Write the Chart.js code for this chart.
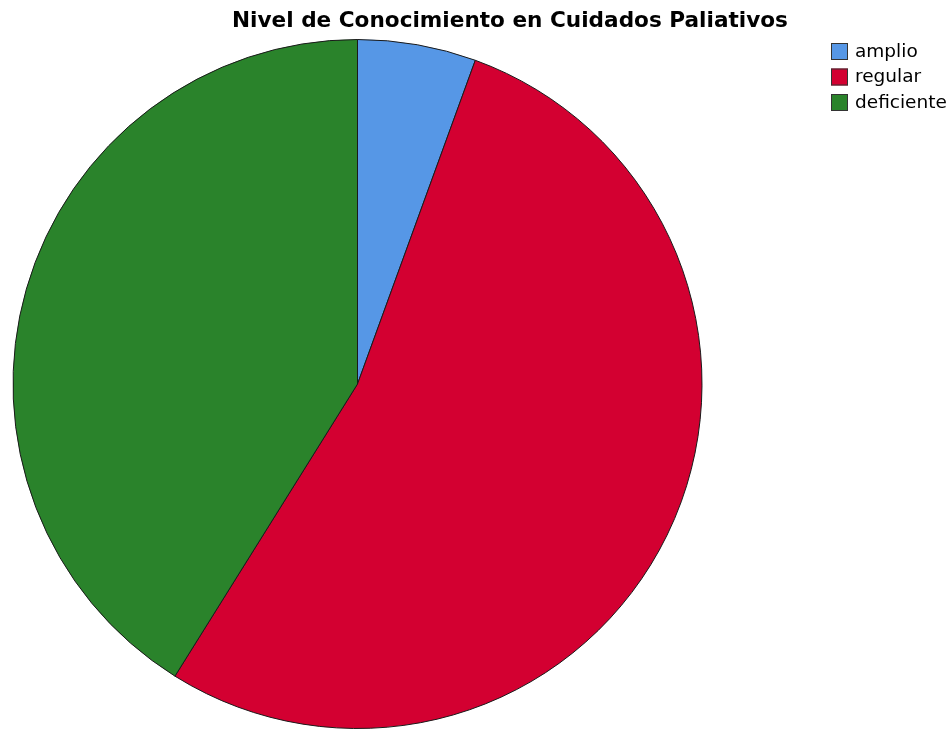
<!DOCTYPE html>
<html>
<head>
<meta charset="utf-8">
<script src="https://cdn.jsdelivr.net/npm/chart.js@4/dist/chart.umd.min.js"></script>
<style>
  html, body { margin: 0; padding: 0; background: #fff; }
  #wrap { width: 951px; height: 729px; }
</style>
</head>
<body>
<div id="wrap"><canvas id="chart" width="951" height="729"></canvas></div>
<script>
const chartTitle = "Nivel de Conocimiento en Cuidados Paliativos";
const categories = ["amplio", "regular", "deficiente"];
const counts = [5, 48, 37];
const colors = ["#5697e6", "#d30031", "#2a832b"];

const FONT = "'DejaVu Sans', sans-serif";

// title and legend drawn by hand so they sit where SPSS puts them
const spssDecor = {
  id: "spssDecor",
  afterDraw(chart) {
    const { ctx } = chart;
    const ds = chart.data.datasets[0];
    ctx.save();
    ctx.fillStyle = "#000";
    ctx.font = `bold 21.6px ${FONT}`;
    ctx.textAlign = "center";
    ctx.textBaseline = "middle";
    ctx.fillText(chartTitle, 510, 21);

    ctx.font = `18.5px ${FONT}`;
    ctx.textAlign = "left";
    chart.data.labels.forEach((label, i) => {
      const y = 51 + i * 25.5;
      ctx.fillStyle = ds.backgroundColor[i];
      ctx.fillRect(831, y - 8, 17, 17);
      ctx.strokeStyle = "#333";
      ctx.lineWidth = 1;
      ctx.strokeRect(831.5, y - 7.5, 16, 16);
      ctx.fillStyle = "#000";
      ctx.fillText(label, 855, y + 1);
    });
    ctx.restore();
  },
};

document.addEventListener("DOMContentLoaded", () => {
  new Chart(document.getElementById("chart"), {
    type: "pie",
    data: {
      labels: categories,
      datasets: [
        {
          data: counts,
          backgroundColor: colors,
          borderColor: "#1a1a1a",
          borderWidth: 1,
        },
      ],
    },
    options: {
      responsive: false,
      animation: false,
      layout: { padding: { top: 39, bottom: 0, left: 11, right: 247 } },
      plugins: {
        legend: { display: false },
        title: { display: false },
        tooltip: { enabled: false },
      },
    },
    plugins: [spssDecor],
  });
});
</script>
</body>
</html>
